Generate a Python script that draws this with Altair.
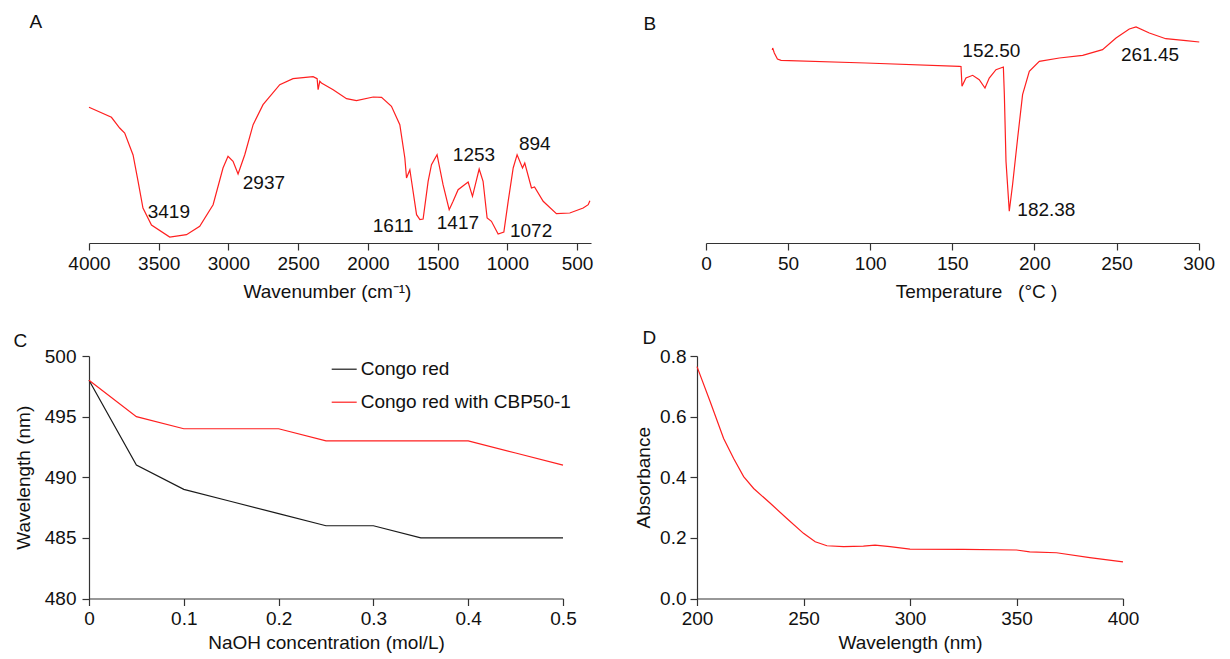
import altair as alt
import pandas as pd

FONT = "Liberation Sans"
RED = "#ff1f1f"
INK = "#111111"

# ---------------- Panel A : FT-IR ----------------
ftir_wavenumber = [4000, 3839, 3780, 3744, 3684, 3648, 3613, 3552, 3421, 3301, 3206, 3110, 3039, 3003,
                   2967, 2931, 2883, 2823, 2752, 2632, 2537, 2393, 2364, 2357, 2345, 2333, 2249, 2153,
                   2082, 1962, 1902, 1831, 1771, 1735, 1723, 1699, 1687, 1651, 1627, 1604, 1568, 1544,
                   1504, 1461, 1417, 1389, 1353, 1281, 1250, 1202, 1174, 1145, 1114, 1066, 1025, 994,
                   958, 930, 891, 875, 827, 805, 743, 648, 552, 456, 420, 408]
ftir_transmittance = [135.7, 125.7, 115, 110, 88, 61.7, 35, 18, 6, 8.3, 16.7, 38.3, 75, 86.7,
                      81.7, 69, 88.3, 118.3, 138.3, 158.3, 164.3, 166.3, 164.3, 153.3, 161.7, 160, 153.3, 144.3,
                      142.3, 146, 145.7, 136.7, 118.3, 85, 65, 73.3, 62, 28.3, 23.3, 24, 61.7, 78.3,
                      88.3, 58.3, 33.3, 41.7, 53.3, 61, 46.7, 74, 61.7, 25, 21.7, 9, 11, 41.7,
                      75, 88.3, 75, 80, 55, 56, 41.7, 29.3, 30, 35, 38.3, 42.3]
ftir_labels = ["3419", "2937", "1611", "1417", "1253", "894", "1072"]
ftir_label_x = [3579, 2897, 1965, 1506, 1391, 917, 981]
ftir_label_y = [31, 60, 17, 20, 88, 99, 12]
ftir_ticks = [4000, 3500, 3000, 2500, 2000, 1500, 1000, 500]

# ---------------- Panel B : DSC ----------------
dsc_temperature = [40.4, 40.6, 41.6, 43.5, 45.7, 97.4, 154.3, 155.3, 155.9, 158.3, 162.4, 166.4, 169.9,
                   172.5, 176.6, 181.1, 181.7, 182.7, 184.7, 186.7, 189.8, 192.8, 196.9, 203, 215.2,
                   229.4, 241.5, 249.7, 257.8, 261.9, 270, 280, 292.3, 300.4]
dsc_heatflow = [193, 195, 190, 184, 182.7, 180, 176.7, 176.5, 156.7, 165, 167.7, 163.3, 155,
                165, 173.3, 176, 148.3, 81.7, 31.7, 58.3, 105, 148.3, 171.7, 181.7, 185,
                187.7, 193.3, 205, 214, 216, 210, 204.3, 202.3, 201]
dsc_labels = ["152.50", "182.38", "261.45"]
dsc_label_x = [156.1, 189.6, 252.7]
dsc_label_y = [191.7, 33.3, 188.3]
dsc_ticks = [0, 50, 100, 150, 200, 250, 300]

# ---------------- Panel C : Congo red ----------------
naoh_conc = [0, 0.05, 0.1, 0.15, 0.2, 0.25, 0.3, 0.35, 0.4, 0.45, 0.5]
congo_red = [498, 491, 489, 488, 487, 486, 486, 485, 485, 485, 485]
congo_red_cbp = [498, 495, 494, 494, 494, 493, 493, 493, 493, 492, 491]
series_names = ["Congo red", "Congo red with CBP50-1"]

# ---------------- Panel D : UV ----------------
uv_wavelength = [200, 206.2, 212.5, 217.2, 221.9, 226.6, 234.4, 242.2, 250, 255.5, 261, 268.8,
                 278.1, 283.6, 290.6, 300, 325, 350, 356.2, 368.8, 384.4, 400]
uv_absorbance = [0.765, 0.649, 0.528, 0.462, 0.402, 0.363, 0.314, 0.264, 0.215, 0.187, 0.174, 0.171,
                 0.173, 0.176, 0.171, 0.163, 0.162, 0.160, 0.154, 0.151, 0.135, 0.121]


def letter(text, dx, offset):
    return alt.TitleParams(text, anchor="start", frame="group", dx=dx, offset=offset,
                           baseline="alphabetic", fontSize=19, fontWeight="normal",
                           font=FONT, color=INK)


# Panel A
dfA = pd.DataFrame({"x": ftir_wavenumber, "y": ftir_transmittance, "i": list(range(len(ftir_wavenumber)))})
dfAl = pd.DataFrame({"x": ftir_label_x, "y": ftir_label_y, "label": ftir_labels})
xA = alt.X("x:Q", scale=alt.Scale(domain=[4000, 400], nice=False, zero=False),
           axis=alt.Axis(values=ftir_ticks, format="d", title="Wavenumber (cm⁻¹)",
                         titleX=238, titlePadding=9))
yA = alt.Y("y:Q", scale=alt.Scale(domain=[0, 220], nice=False, zero=False), axis=None)
lineA = alt.Chart(dfA).mark_line(color=RED, strokeWidth=1.2).encode(x=xA, y=yA, order="i:Q")
textA = alt.Chart(dfAl).mark_text(align="left", baseline="middle", fontSize=19, font=FONT,
                                   color=INK).encode(x=xA, y=yA, text="label:N")
A = alt.layer(lineA, textA).properties(width=502, height=220, title=letter("A", -59.5, -24))

# Panel B
dfB = pd.DataFrame({"x": dsc_temperature, "y": dsc_heatflow, "i": list(range(len(dsc_temperature)))})
dfBl = pd.DataFrame({"x": dsc_label_x, "y": dsc_label_y, "label": dsc_labels})
xB = alt.X("x:Q", scale=alt.Scale(domain=[0, 300], nice=False, zero=False),
           axis=alt.Axis(values=dsc_ticks, format="d",
                         title="Temperature\u00a0\u00a0\u00a0(°C\u00a0)",
                         titleX=270, titlePadding=9))
yB = alt.Y("y:Q", scale=alt.Scale(domain=[0, 220], nice=False, zero=False), axis=None)
lineB = alt.Chart(dfB).mark_line(color=RED, strokeWidth=1.2).encode(x=xB, y=yB, order="i:Q")
textB = alt.Chart(dfBl).mark_text(align="left", baseline="middle", fontSize=19, font=FONT,
                                   color=INK).encode(x=xB, y=yB, text="label:N")
B = alt.layer(lineB, textB).properties(width=492.6, height=220, title=letter("B", -62.5, -26))

# Panel C
dfC = pd.DataFrame({
    "x": naoh_conc * 2,
    "y": congo_red + congo_red_cbp,
    "series": [series_names[0]] * len(naoh_conc) + [series_names[1]] * len(naoh_conc),
})
C = alt.Chart(dfC).mark_line(strokeWidth=1.2).encode(
    x=alt.X("x:Q", scale=alt.Scale(domain=[0, 0.5], nice=False),
            axis=alt.Axis(values=[0, 0.1, 0.2, 0.3, 0.4, 0.5], format="~g",
                          title="NaOH concentration (mol/L)", titlePadding=5)),
    y=alt.Y("y:Q", scale=alt.Scale(domain=[480, 500], nice=False, zero=False),
            axis=alt.Axis(values=[480, 485, 490, 495, 500], format="d",
                          title="Wavelength (nm)", titlePadding=11, labelPadding=6)),
    color=alt.Color("series:N", scale=alt.Scale(domain=series_names, range=["#1a1a1a", RED]),
                    legend=alt.Legend(title=None, orient="none", legendX=241.7, legendY=332.7,
                                      symbolType="stroke", symbolSize=625, symbolStrokeWidth=1.2,
                                      labelFontSize=19, labelFont=FONT, labelColor=INK,
                                      labelOffset=3, rowPadding=9, labelLimit=0)),
).properties(width=474, height=242.5, title=letter("C", -75.5, -19))

# Panel D
dfD = pd.DataFrame({"x": uv_wavelength, "y": uv_absorbance})
D = alt.Chart(dfD).mark_line(color=RED, strokeWidth=1.2).encode(
    x=alt.X("x:Q", scale=alt.Scale(domain=[200, 400], nice=False, zero=False),
            axis=alt.Axis(values=[200, 250, 300, 350, 400], format="d",
                          title="Wavelength (nm)", titlePadding=5)),
    y=alt.Y("y:Q", scale=alt.Scale(domain=[0, 0.8], nice=False),
            axis=alt.Axis(values=[0, 0.2, 0.4, 0.6, 0.8], format=".1f",
                          title="Absorbance", titlePadding=6)),
).properties(width=426, height=242.5, title=letter("D", -54.5, -16))

top = alt.hconcat(A, B, spacing=115, bounds="flush")
bottom = alt.hconcat(C, D, spacing=134, bounds="flush")

chart = alt.vconcat(top, bottom, spacing=28).properties(
    padding={"left": 5, "top": 5, "right": 0, "bottom": 0},
    background="white",
).configure_axis(
    labelFont=FONT, titleFont=FONT, labelFontSize=19, titleFontSize=19,
    titleFontWeight="normal", labelColor=INK, titleColor=INK,
    domainColor="#333333", tickColor="#333333", domainWidth=1.2, tickWidth=1.2,
    tickSize=7, labelPadding=4, grid=False, labelFlush=False,
).configure_view(stroke=None)

chart.save("out.html", embed_options={"renderer": "svg", "actions": False})
